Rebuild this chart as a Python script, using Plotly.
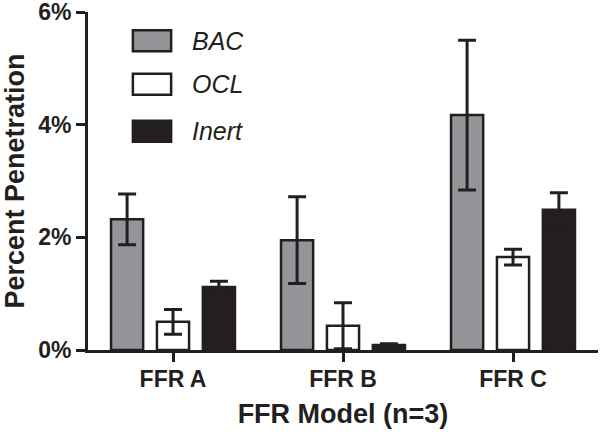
import plotly.graph_objects as go

categories = ["FFR A", "FFR B", "FFR C"]
series_names = ["BAC", "OCL", "Inert"]
bac = [2.32, 1.95, 4.17]
bac_err = [0.45, 0.77, 1.33]
ocl = [0.50, 0.43, 1.65]
ocl_err = [0.22, 0.41, 0.14]
inert = [1.12, 0.09, 2.49]
inert_err = [0.10, 0.02, 0.30]
y_ticks = [0, 2, 4, 6]
y_tick_labels = ["0%", "2%", "4%", "6%"]

colors = ["#939598", "#ffffff", "#231f20"]
dark = "#231f20"
FONT = "Liberation Sans, Arial, Helvetica, sans-serif"

fig = go.Figure()
for name, vals, errs, col in zip(series_names, [bac, ocl, inert], [bac_err, ocl_err, inert_err], colors):
    fig.add_trace(go.Bar(
        x=categories, y=vals, name=name,
        marker=dict(color=col, line=dict(color=dark, width=2.5)),
        error_y=dict(type="data", array=errs, visible=True, color=dark, thickness=3, width=9),
        showlegend=False,
    ))

# manual legend (large swatches like the original)
leg_y = [0.915, 0.786, 0.647]
for name, col, yy in zip(series_names, colors, leg_y):
    fig.add_shape(type="rect", xref="paper", yref="paper",
                  x0=0.088, x1=0.163, y0=yy - 0.031, y1=yy + 0.031,
                  fillcolor=col, line=dict(color=dark, width=2.5))
    fig.add_annotation(xref="paper", yref="paper", x=0.2, y=yy, text=name,
                       showarrow=False, xanchor="left", yanchor="middle",
                       font=dict(family=FONT, size=25, color=dark, style="italic"))

fig.update_layout(
    width=600, height=432,
    margin=dict(l=88, r=2, t=12, b=82),
    paper_bgcolor="white", plot_bgcolor="white",
    barmode="group", bargap=0.19, bargroupgap=0.30,
    font=dict(family=FONT, color=dark),
)
fig.update_xaxes(
    range=[-0.5, 2.5], showline=True, linecolor=dark, linewidth=3,
    ticks="outside", ticklen=9, tickwidth=3, tickcolor=dark,
    tickfont=dict(family=FONT, size=23, weight="bold", color=dark),
    ticklabelstandoff=-3,
    title=dict(text="FFR Model (n=3)", font=dict(family=FONT, size=27, weight="bold", color=dark), standoff=14),
    showgrid=False, zeroline=False, automargin=False,
)
fig.update_yaxes(
    range=[0, 6], tickvals=y_ticks, ticktext=y_tick_labels,
    showline=True, linecolor=dark, linewidth=3,
    ticks="outside", ticklen=9, tickwidth=3, tickcolor=dark,
    tickfont=dict(family=FONT, size=23, weight="bold", color=dark),
    ticklabeloverflow="allow",
    title=dict(text="Percent Penetration", font=dict(family=FONT, size=27, weight="bold", color=dark), standoff=6),
    showgrid=False, zeroline=False, automargin=False,
)

fig.write_html("out.html", config={"displayModeBar": False},
               post_script="document.body.style.margin='0';document.body.style.overflow='hidden';")
